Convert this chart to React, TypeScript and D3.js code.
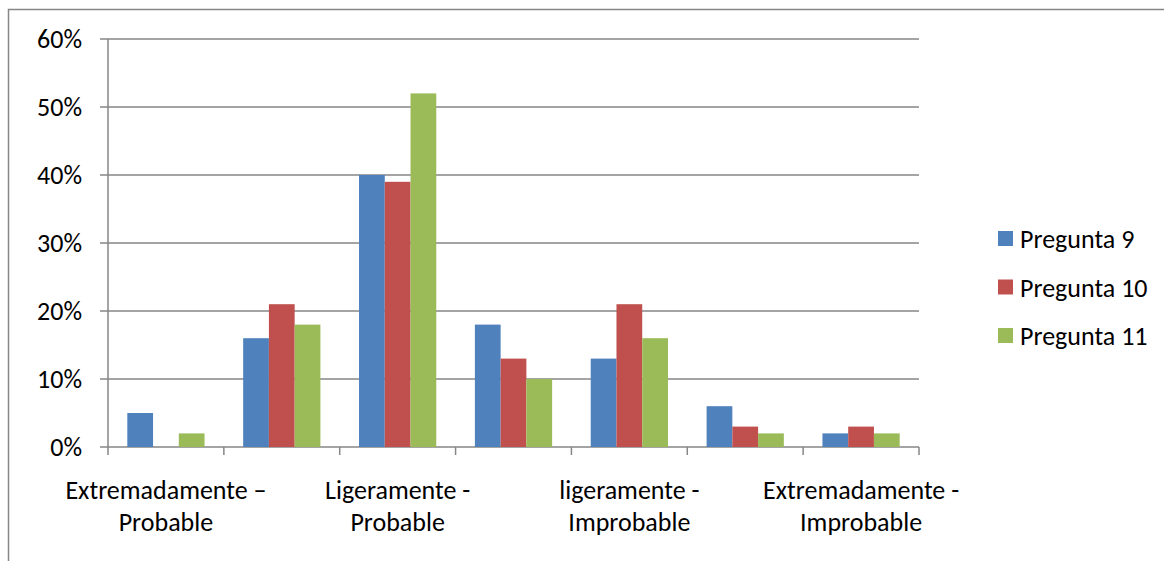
import React from "react";
import * as d3 from "d3";

const categories = [
  "Extremadamente – Probable",
  "Bastante - Probable",
  "Ligeramente - Probable",
  "Ni probable ni improbable",
  "ligeramente - Improbable",
  "Bastante - Improbable",
  "Extremadamente - Improbable",
];
const shownLabels: (string[] | null)[] = [
  ["Extremadamente –", "Probable"],
  null,
  ["Ligeramente -", "Probable"],
  null,
  ["ligeramente -", "Improbable"],
  null,
  ["Extremadamente -", "Improbable"],
];
const seriesNames = ["Pregunta 9", "Pregunta 10", "Pregunta 11"];
const pregunta9 = [5, 16, 40, 18, 13, 6, 2];
const pregunta10 = [0, 21, 39, 13, 21, 3, 3];
const pregunta11 = [2, 18, 52, 10, 16, 2, 2];
const yTicks = [0, 10, 20, 30, 40, 50, 60];
const colors = ["#4F81BD", "#C0504D", "#9BBB59"];

export default function App() {
  const W = 1164, H = 561;
  const left = 108, right = 919, top = 39, bottom = 447;
  const series = [pregunta9, pregunta10, pregunta11];
  const x = d3.scaleBand<string>().domain(categories).range([left, right]).padding(0);
  const bw = x.bandwidth();
  const barW = bw / (3 + 1.5);
  const y = d3.scaleLinear().domain([0, 60]).range([bottom, top]);
  const font = "Carlito, Calibri, Lato, sans-serif";
  const grid = "#868686";
  const fs = 26;
  const gap = (bw - 3 * barW) / 2;
  return (
    <svg width={W} height={H} style={{ position: "absolute", left: 0, top: 0 }} fontFamily={font}>
      <rect x={0} y={0} width={W} height={H} fill="#fff" />
      <rect x={8.5} y={9.5} width={W + 20} height={H + 20} fill="none" stroke={grid} strokeWidth={1.5} />
      {yTicks.map((t) => (
        <g key={t}>
          <line x1={left - 8} x2={right} y1={y(t)} y2={y(t)} stroke={grid} strokeWidth={1.5} />
          <text x={82} y={y(t)} dy="0.35em" textAnchor="end" fontSize={fs} fill="#000">{t}%</text>
        </g>
      ))}
      <line x1={left} x2={left} y1={top} y2={bottom} stroke={grid} strokeWidth={1.5} />
      {categories.map((c) => (
        <line key={c} x1={x(c)!} x2={x(c)!} y1={bottom} y2={bottom + 8} stroke={grid} strokeWidth={1.5} />
      ))}
      <line x1={right} x2={right} y1={bottom} y2={bottom + 8} stroke={grid} strokeWidth={1.5} />
      {categories.map((c, ci) =>
        series.map((s, si) => {
          const v = s[ci];
          if (v <= 0) return null;
          const bx = x(c)! + gap + si * barW;
          return <rect key={c + si} x={bx} y={y(v)} width={barW} height={y(0) - y(v)} fill={colors[si]} />;
        })
      )}
      {categories.map((c, ci) => {
        const lab = shownLabels[ci];
        if (!lab) return null;
        const cx = x(c)! + bw / 2;
        return (
          <text key={c} x={cx} textAnchor="middle" fontSize={fs} fill="#000">
            {lab.map((l, li) => (
              <tspan key={li} x={cx} y={499 + li * 32}>{l}</tspan>
            ))}
          </text>
        );
      })}
      {seriesNames.map((n, i) => (
        <g key={n}>
          <rect x={998} y={231 + i * 48.5} width={15} height={15} fill={colors[i]} />
          <text x={1020} y={239 + i * 48.5} dy="0.35em" fontSize={fs} fill="#000">{n}</text>
        </g>
      ))}
    </svg>
  );
}
